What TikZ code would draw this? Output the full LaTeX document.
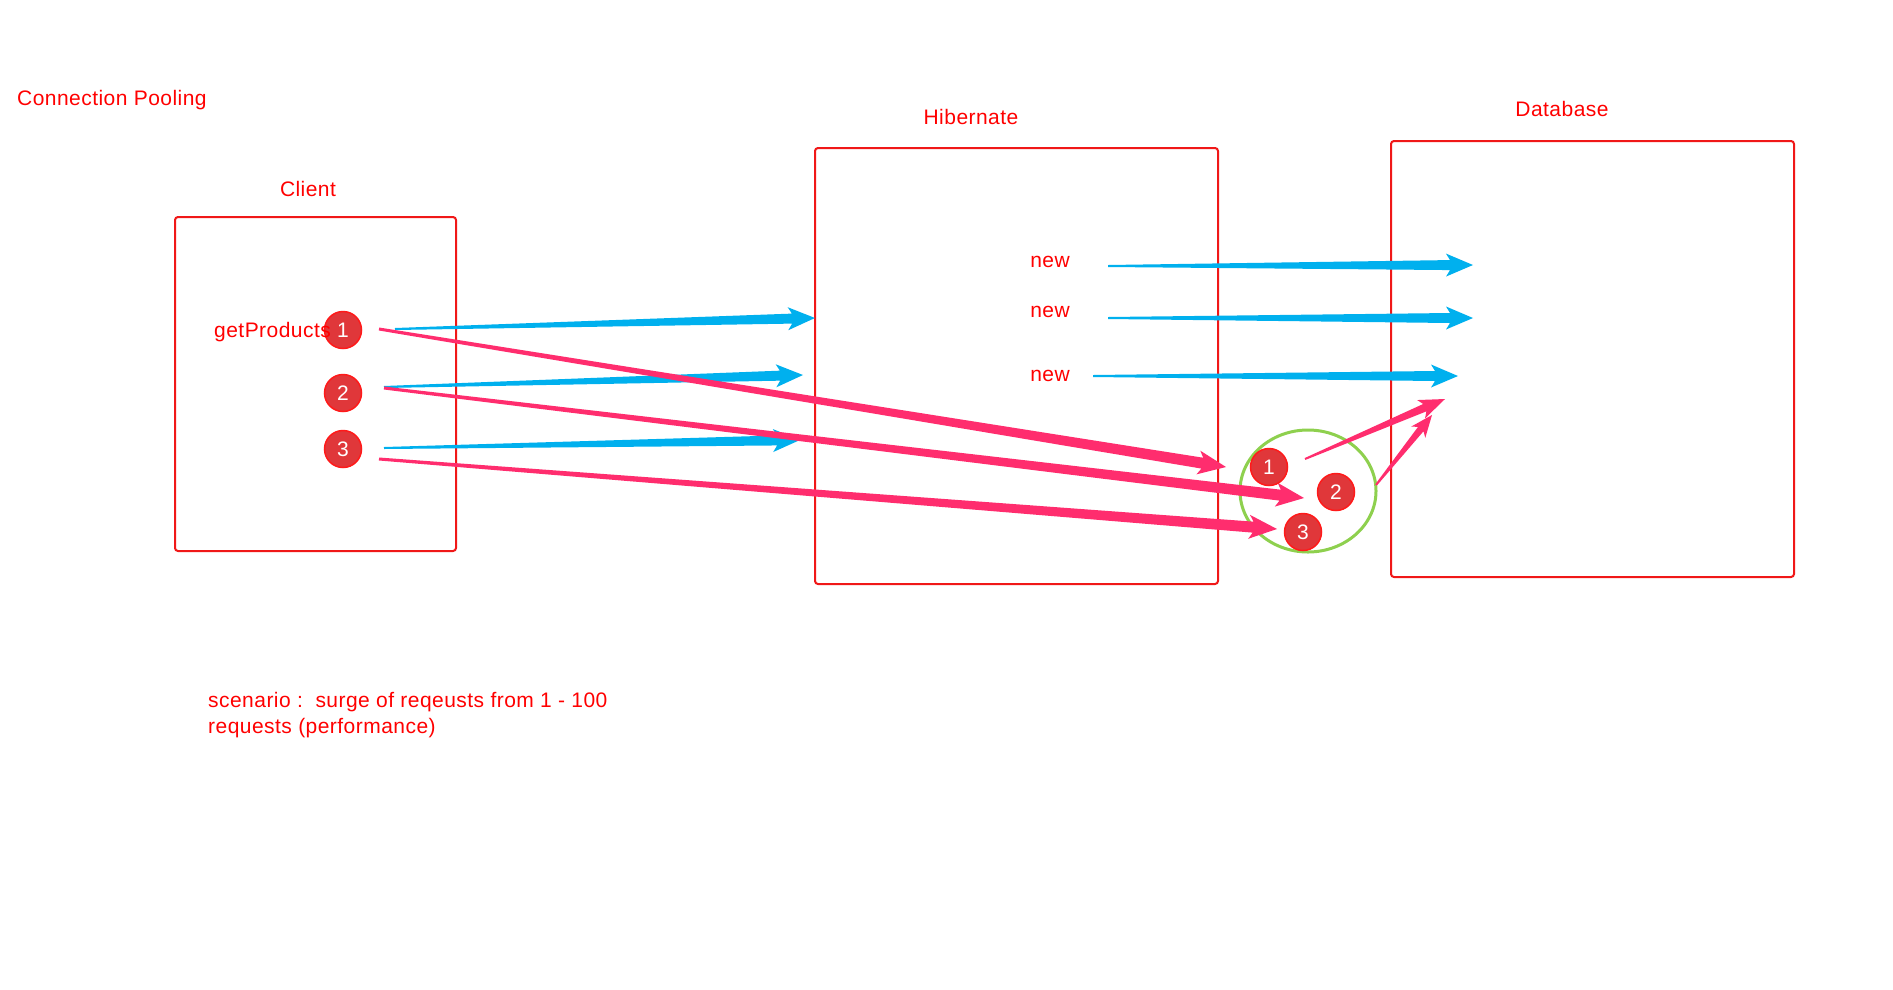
\documentclass[tikz,border=0pt]{standalone}
\usepackage{fontspec}
\setmainfont{Liberation Sans}[LetterSpace=2.2]
\usetikzlibrary{calc,shapes.geometric}
\definecolor{txtred}{HTML}{FF0000}
\definecolor{boxred}{HTML}{F01818}
\definecolor{arrblue}{HTML}{00B0EE}
\definecolor{arrpink}{HTML}{FF2D6E}
\definecolor{numfill}{HTML}{E0373A}
\definecolor{numrim}{HTML}{FF1A1A}
\definecolor{poolgreen}{HTML}{8ED04E}
% tapered arrow: #1 style, #2 from, #3 to, #4 start half width, #5 shaft half width at head, #6 barb half width, #7 head length
\newcommand{\taper}[7]{%
  \path ($(#3)!#7-4pt!(#2)$) coordinate (tpHa) ($(#3)!#7!(#2)$) coordinate (tpHb);
  \fill[#1] ($(#2)!#4!90:(#3)$) -- ($(tpHa)!#5!90:(#3)$) -- ($(tpHb)!#6!90:(#3)$) -- (#3)
    -- ($(tpHb)!#6!-90:(#3)$) -- ($(tpHa)!#5!-90:(#3)$) -- ($(#2)!#4!-90:(#3)$) -- cycle;
}
\begin{document}
\begin{tikzpicture}[x=1pt,y=-1pt,
  lbl/.style={text=txtred,font=\fontsize{21}{26}\selectfont,inner sep=0pt},
  frame/.style={draw=boxred,line width=2pt,rounded corners=3pt,inner sep=0pt},
  num/.style={circle,fill=numfill,draw=numrim,line width=1.5pt,minimum size=37pt,inner sep=0pt,text=white,font=\fontsize{21}{21}\selectfont},
  blue/.style={fill=arrblue},
  pink/.style={fill=arrpink},
  ]
\useasboundingbox[fill=white] (0,0) rectangle (1893,989);

% boxes
\node[frame,minimum width=281pt,minimum height=334pt] (client) at (315.5,384) {};
\node[frame,minimum width=403pt,minimum height=436pt] (hib) at (1016.5,366) {};
\node[frame,minimum width=403pt,minimum height=436pt] (db) at (1592.5,359) {};

% pool
\node[draw=poolgreen,line width=3pt,ellipse,minimum width=136pt,minimum height=122pt,inner sep=0pt] (pool) at (1308,491) {};

% labels
\node[lbl,anchor=west] (title) at (17,100.5) {Connection Pooling};
\node[lbl] (clientlbl) at (308,189) {Client};
\node[lbl] (hiblbl) at (971,117) {Hibernate};
\node[lbl] (dblbl) at (1562,109) {Database};
\node[lbl] (new1) at (1050,262) {new};
\node[lbl] (new2) at (1050,312) {new};
\node[lbl] (new3) at (1050,376) {new};
\node[lbl,anchor=north west,align=left] (scen) at (208,692) {scenario :\ \ surge of reqeusts from 1 - 100\\requests (performance)};

% arrow end points
\coordinate (b1s) at (395,329); \coordinate (b1e) at (815,318);
\coordinate (b2s) at (384,387); \coordinate (b2e) at (803,375);
\coordinate (b3s) at (384,448); \coordinate (b3e) at (800,440);
\coordinate (b4s) at (1108,266); \coordinate (b4e) at (1473,265);
\coordinate (b5s) at (1108,318); \coordinate (b5e) at (1473,318);
\coordinate (b6s) at (1093,376); \coordinate (b6e) at (1458,376);
\coordinate (k1s) at (379,329); \coordinate (k1e) at (1226,467);
\coordinate (k2s) at (384,388); \coordinate (k2e) at (1304,498);
\coordinate (k3s) at (379,459); \coordinate (k3e) at (1277,529);
\coordinate (k4s) at (1305,459); \coordinate (k4e) at (1445,399);
\coordinate (k5s) at (1376,485); \coordinate (k5e) at (1432,415);

% blue arrows
\taper{blue}{b1s}{b1e}{1pt}{5pt}{11.5pt}{27pt}
\taper{blue}{b2s}{b2e}{1pt}{5pt}{11.5pt}{27pt}
\taper{blue}{b3s}{b3e}{1pt}{5pt}{11.5pt}{27pt}
\taper{blue}{b4s}{b4e}{1pt}{5pt}{11.5pt}{27pt}
\taper{blue}{b5s}{b5e}{1pt}{5pt}{11.5pt}{27pt}
\taper{blue}{b6s}{b6e}{1pt}{5pt}{11.5pt}{27pt}

% pink arrows
\taper{pink}{k1s}{k1e}{1.5pt}{5.5pt}{12pt}{28pt}
\taper{pink}{k2s}{k2e}{1.5pt}{5.5pt}{12pt}{28pt}
\taper{pink}{k3s}{k3e}{1.5pt}{5.5pt}{12pt}{28pt}
\taper{pink}{k4s}{k4e}{1pt}{4pt}{10pt}{26pt}
\taper{pink}{k5s}{k5e}{1pt}{3.5pt}{9pt}{22pt}

% numbered circles
\node[num] (c1) at (343,330) {1};
\node[num] (c2) at (343,393) {2};
\node[num] (c3) at (343,449) {3};
\node[num] (p1) at (1269,467) {1};
\node[num] (p2) at (1336,492) {2};
\node[num] (p3) at (1303,532) {3};

\node[lbl,anchor=west] (getp) at (214,332) {getProducts};
\end{tikzpicture}
\end{document}
